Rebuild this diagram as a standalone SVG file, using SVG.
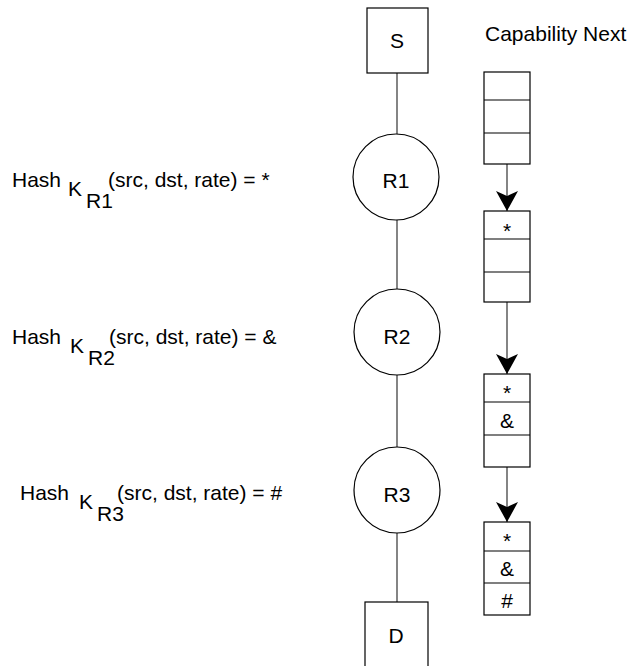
<svg xmlns="http://www.w3.org/2000/svg" width="637" height="666" viewBox="0 0 637 666">
<style>
.t{font-family:"Liberation Sans",Arial,sans-serif;font-size:21px;fill:#000}
.c{text-anchor:middle}
.box{fill:#fff;stroke:#000;stroke-width:1.2}
.ln{stroke:#333;stroke-width:1.2;fill:none}
</style>
<defs>
<marker id="ah" viewBox="-21 -12 22 24" refX="0" refY="0" markerWidth="22" markerHeight="24" markerUnits="userSpaceOnUse" orient="auto">
<path d="M0,0 L-20,-11 L-15,0 L-20,11 Z" fill="#000"/>
</marker>
</defs>
<g id="connectors">
<line class="ln" x1="397" y1="73" x2="397" y2="134"/>
<line class="ln" x1="397" y1="220" x2="397" y2="289"/>
<line class="ln" x1="397" y1="375" x2="397" y2="447"/>
<line class="ln" x1="397" y1="533" x2="397" y2="602"/>
<line class="ln" x1="507" y1="164" x2="507" y2="211" marker-end="url(#ah)"/>
<line class="ln" x1="507" y1="302" x2="507" y2="374" marker-end="url(#ah)"/>
<line class="ln" x1="507" y1="467" x2="507" y2="522" marker-end="url(#ah)"/>
</g>
<g id="S"><rect class="box" x="367" y="8" width="61" height="65"/><text class="t c" x="397" y="48">S</text></g>
<g id="R1"><circle class="box" cx="396" cy="177" r="43"/><text class="t c" x="396" y="188">R1</text></g>
<g id="R2"><circle class="box" cx="397" cy="332" r="43"/><text class="t c" x="397" y="344">R2</text></g>
<g id="R3"><circle class="box" cx="397" cy="490" r="43"/><text class="t c" x="397" y="502">R3</text></g>
<g id="D"><rect class="box" x="365" y="602" width="63" height="70"/><text class="t c" x="396" y="643">D</text></g>
<g id="title"><text class="t" x="485" y="41">Capability Next</text></g>
<g id="stack1">
<rect class="box" x="484" y="72" width="46" height="92"/>
<line class="box" x1="484" y1="100" x2="530" y2="100"/>
<line class="box" x1="484" y1="133" x2="530" y2="133"/>
</g>
<g id="stack2">
<rect class="box" x="484" y="211" width="46" height="91"/>
<line class="box" x1="484" y1="239" x2="530" y2="239"/>
<line class="box" x1="484" y1="272" x2="530" y2="272"/>
<text class="t c" x="507" y="238">*</text>
</g>
<g id="stack3">
<rect class="box" x="484" y="374" width="46" height="93"/>
<line class="box" x1="484" y1="402" x2="530" y2="402"/>
<line class="box" x1="484" y1="435" x2="530" y2="435"/>
<text class="t c" x="507" y="400">*</text>
<text class="t c" x="507" y="428">&amp;</text>
</g>
<g id="stack4">
<rect class="box" x="484" y="522" width="46" height="93"/>
<line class="box" x1="484" y1="551" x2="530" y2="551"/>
<line class="box" x1="484" y1="583" x2="530" y2="583"/>
<text class="t c" x="507" y="548">*</text>
<text class="t c" x="507" y="576">&amp;</text>
<text class="t c" x="507" y="608">#</text>
</g>
<g id="label1">
<text class="t" x="12" y="187">Hash</text>
<text class="t" x="68" y="196">K</text>
<text class="t" x="86" y="208">R1</text>
<text class="t" x="108" y="187">(src, dst, rate) = *</text>
</g>
<g id="label2">
<text class="t" x="12" y="344">Hash</text>
<text class="t" x="70" y="353">K</text>
<text class="t" x="88" y="365">R2</text>
<text class="t" x="109" y="344">(src, dst, rate) = &amp;</text>
</g>
<g id="label3">
<text class="t" x="20" y="500">Hash</text>
<text class="t" x="79" y="509">K</text>
<text class="t" x="97" y="521">R3</text>
<text class="t" x="117" y="500">(src, dst, rate) = #</text>
</g>
</svg>
